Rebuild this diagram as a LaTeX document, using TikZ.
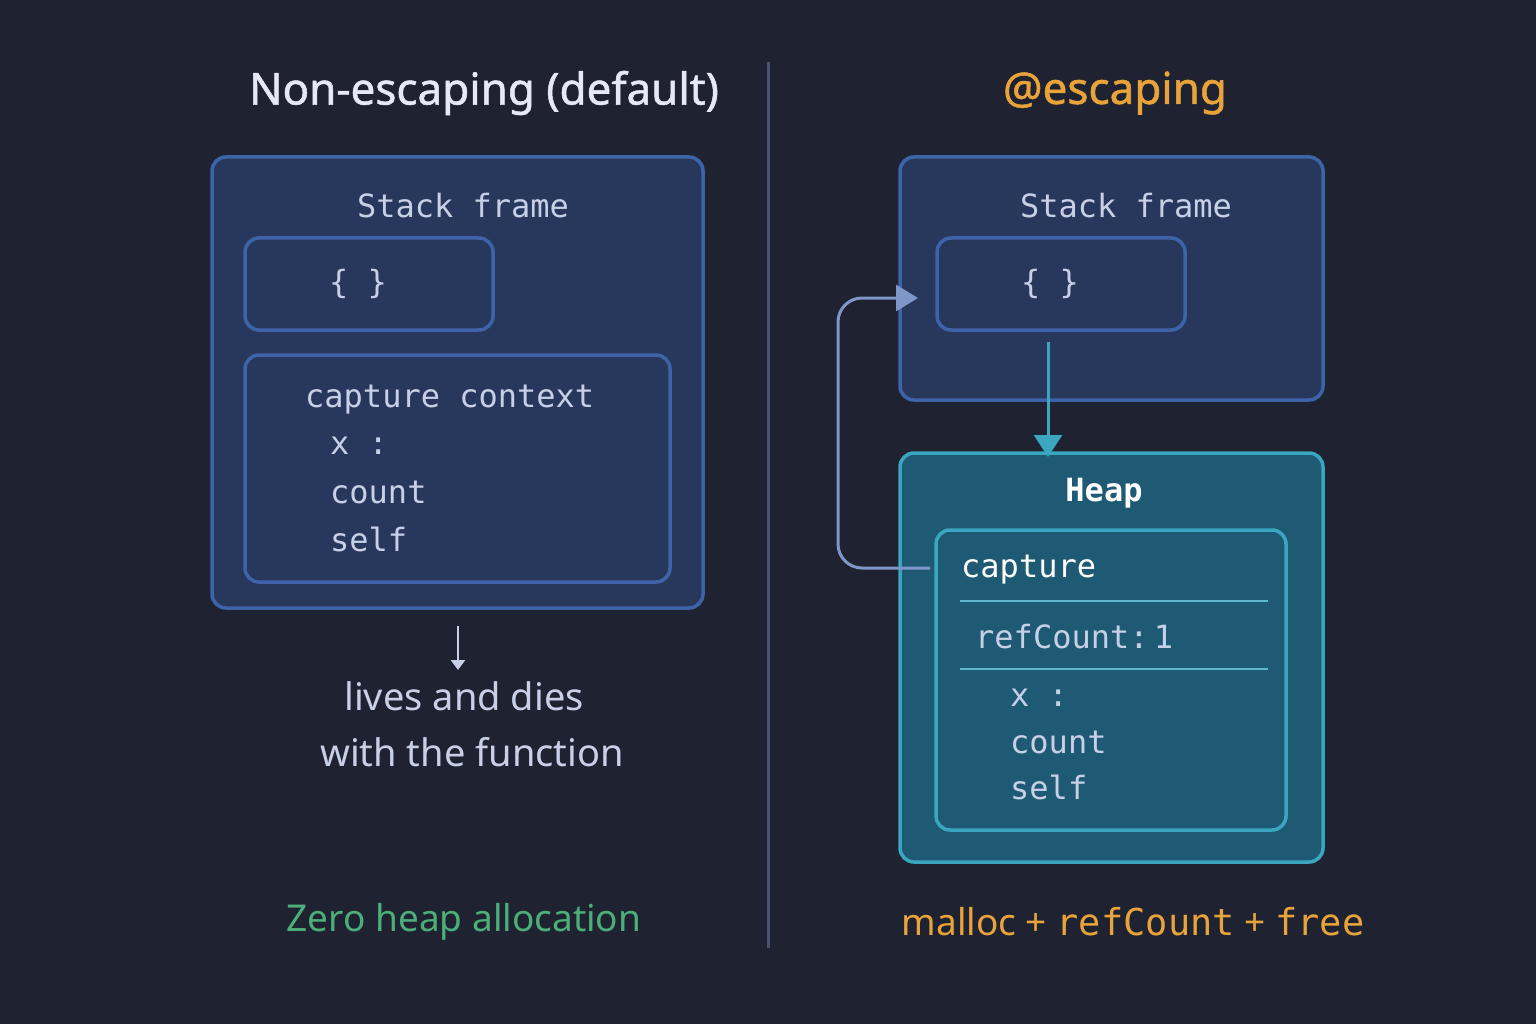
\documentclass[tikz,border=0pt]{standalone}
\usepackage{fontspec}
\setmainfont{Noto Sans}
\newfontfamily\monof{DejaVu Sans Mono}
\newfontfamily\titlef{Noto Sans}[FakeBold=1.2]
\usetikzlibrary{arrows.meta}
\definecolor{bg}{HTML}{1F2230}
\definecolor{boxf}{HTML}{28385C}
\definecolor{boxd}{HTML}{3D64A8}
\definecolor{heapf}{HTML}{1E5A74}
\definecolor{heapd}{HTML}{3AA6C0}
\definecolor{txt}{HTML}{C8D0E8}
\definecolor{ttl}{HTML}{E6E8F5}
\definecolor{org}{HTML}{E8A33A}
\definecolor{grn}{HTML}{4CAF7A}
\definecolor{divc}{HTML}{4A5470}
\definecolor{conn}{HTML}{7F96C8}
\begin{document}
\begin{tikzpicture}[x=1pt,y=-1pt,
  box/.style={draw=boxd,fill=boxf,line width=3.5pt,rounded corners=14pt},
  hbox/.style={draw=heapd,fill=heapf,line width=3.5pt,rounded corners=14pt},
  mono/.style={font=\monof\fontsize{32}{36}\selectfont,text=txt,inner sep=0},
  ttlf/.style={font=\titlef\bfseries\fontsize{44}{50}\selectfont,inner sep=0}]
\fill[bg] (0,0) rectangle (1536,1024);
\useasboundingbox (0,0) rectangle (1536,1024);
\draw[divc,line width=3pt] (768,62) -- (768,948);
% left
\node[ttlf,text=ttl] (t1) at (484,93) {Non-escaping (default)};
\draw[box] (212,157) rectangle (703,608);
\node[mono] (sf1) at (463,206) {Stack frame};
\draw[box] (245,238) rectangle (493,330);
\node[mono] (br1) at (358,284) {\{ \}};
\draw[box] (245,355) rectangle (670,582);
\node[mono,anchor=west] (cc) at (305,400) {capture context};
\node[mono,anchor=west] (x1) at (330,446) {x :};
\node[mono,anchor=west] (c1) at (330,492) {count};
\node[mono,anchor=west] (s1) at (330,539) {self};
\coordinate (a1) at (458,626);
\coordinate (a2) at (458,670);
\draw[txt,line width=2.5pt,-{Triangle[width=14pt,length=10pt]}] (a1) -- (a2);
\node[font=\fontsize{38}{44}\selectfont,text=txt,inner sep=0] (l1) at (464,696) {lives and dies};
\node[font=\fontsize{38}{44}\selectfont,text=txt,inner sep=0] (l2) at (472,752) {with the function};
\node[font=\fontsize{37}{44}\selectfont,text=grn,inner sep=0] (z) at (464,922) {Zero heap allocation};
% right
\node[ttlf,text=org] (t2) at (1115,93) {@escaping};
\draw[box] (900,157) rectangle (1323,400);
\node[mono] (sf2) at (1126,206) {Stack frame};
\draw[box] (937,238) rectangle (1185,330);
\node[mono] (br2) at (1050,284) {\{ \}};
\draw[hbox] (900,453) rectangle (1323,862);
\node[mono,text=white,font=\monof\bfseries\fontsize{32}{36}\selectfont] (hp) at (1104,493) {Heap};
\draw[hbox] (936,530) rectangle (1286,830);
\node[mono,text=white,anchor=west] (cap) at (961,570) {capture};
\draw[heapd!80!white,line width=2pt] (960,601) -- (1268,601);
\node[mono,anchor=west] (rc) at (975,637) {refCount:\,1};
\draw[heapd!80!white,line width=2pt] (960,669) -- (1268,669);
\node[mono,anchor=west] (x2) at (1010,698) {x :};
\node[mono,anchor=west] (c2) at (1010,742) {count};
\node[mono,anchor=west] (s2) at (1010,787) {self};
\coordinate (d1) at (1048,342);
\coordinate (d2) at (1048,457);
\draw[heapd,line width=3pt,-{Triangle[width=28pt,length=22pt]}] (d1) -- (d2);
\coordinate (e1) at (930,568);
\coordinate (e2) at (918,298);
\draw[conn,line width=3pt,rounded corners=24pt,-{Triangle[width=26pt,length=22pt]}] (e1) -- (838,568) -- (838,298) -- (e2);
\node[font=\fontsize{37}{44}\selectfont,text=org,inner sep=0] (m) at (1133,922) {malloc + {\monof refCount} + {\monof free}};
\end{tikzpicture}
\end{document}
